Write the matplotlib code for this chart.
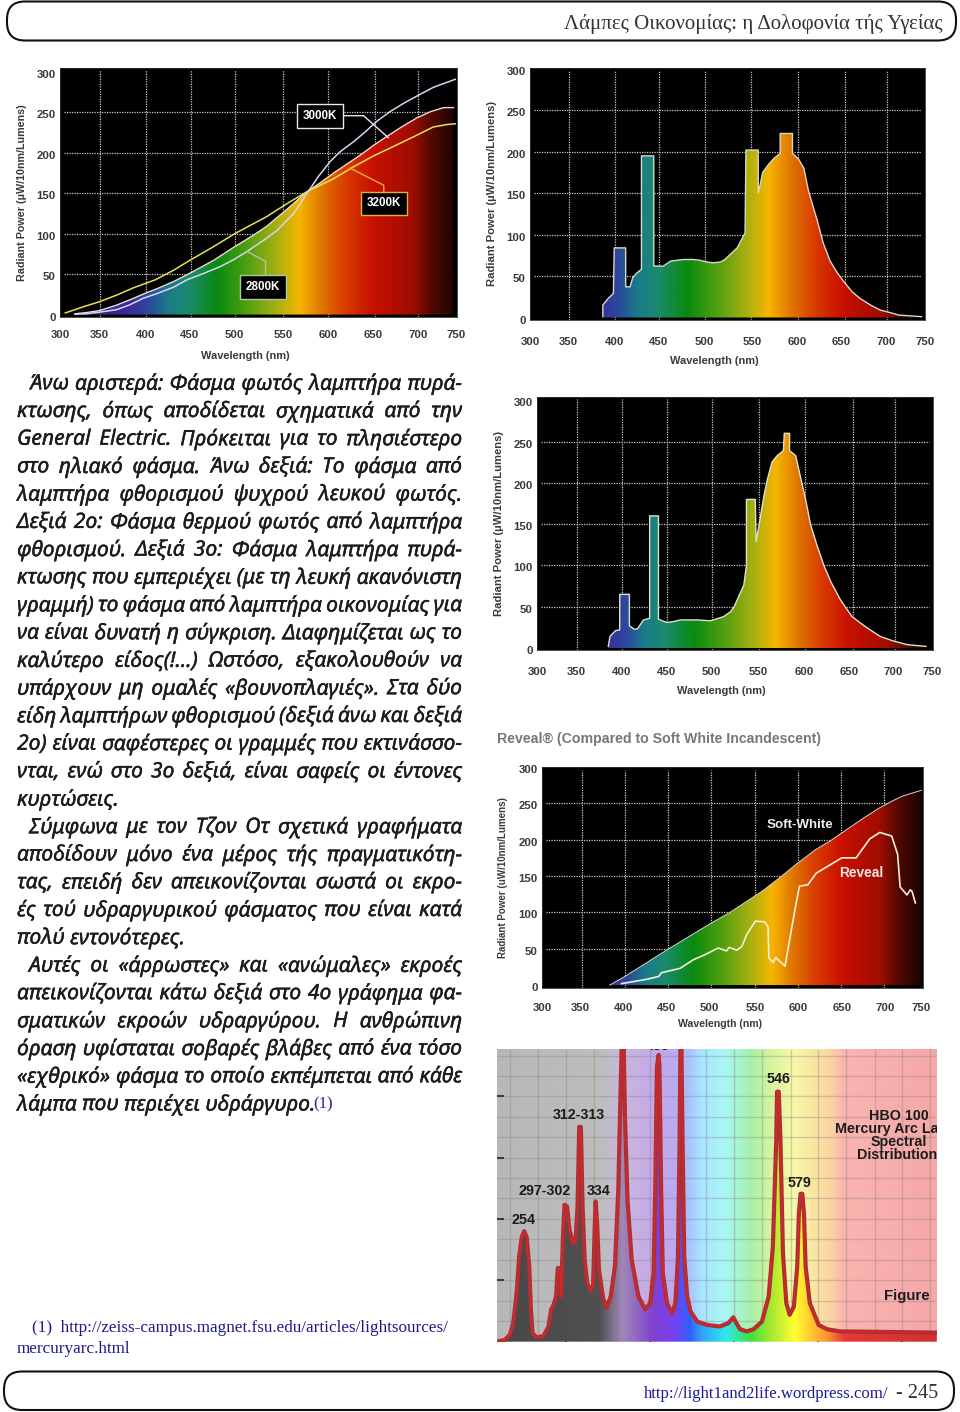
import numpy as np
import matplotlib
matplotlib.use('Agg')
import matplotlib.pyplot as plt
from matplotlib.colors import LinearSegmentedColormap
from matplotlib.patches import FancyBboxPatch
from matplotlib.transforms import ScaledTranslation
import matplotlib.patheffects as pe

W, H = 960, 1412
CHART_FONT = 'Liberation Sans'
SERIF = 'Liberation Serif'
BODY_FONT = 'Noto Sans'

# spectrum colours by wavelength
spec_wl = [300, 376, 402, 421, 444, 478, 512, 546, 572, 595, 625, 655, 700, 723, 750]
spec_col = ['#2a1a80', '#3a2a9a', '#2a4c9c', '#1a7a8a', '#1a8a70', '#0a8a10', '#4f9f10', '#a8b010',
            '#f7b500', '#e07a00', '#d83a00', '#c81000', '#a00c00', '#500800', '#1a0400']

# chart 1: incandescent lamps
c1_tick_x = [300, 345, 397, 447, 498, 553, 604, 655, 706, 749]
c1_grid_x = [345, 397, 448, 498, 553, 604, 657, 706]
c1_fill_x = [317, 330, 345, 364, 383, 398, 410, 429, 447, 474, 498, 519, 534, 557, 580, 595, 610, 625, 640, 655, 670, 687, 704, 720, 735, 746]
c1_fill_y = [1, 2.5, 5, 11.6, 20, 27, 32, 41, 51, 67, 84, 98, 109, 130, 152, 163, 175, 186, 197, 209, 220, 232, 243, 251, 256, 256]
c1_yellow_x = [306, 326, 345, 364, 383, 408, 429, 447, 474, 498, 534, 557, 580, 610, 633, 655, 678, 701, 723, 738, 748]
c1_yellow_y = [2, 9.5, 16, 24, 33, 43, 55, 67, 84, 100, 121, 137, 152, 168, 183, 196, 208, 220, 232, 235, 236]
c1_lav_x = [317, 330, 345, 364, 379, 394, 410, 429, 444, 463, 481, 497, 512, 531, 546, 565, 580, 593, 606, 617, 633, 646, 659, 674, 689, 704, 723, 748]
c1_lav_y = [0.5, 1, 3, 6, 12, 20, 26, 34, 43, 51, 59, 68, 78, 92, 104, 125, 150, 171, 189, 201, 214, 226, 239, 251, 261, 270, 281, 291]

# chart 2: cool white fluorescent
c2_tick_x = [300, 344, 396, 446, 498, 553, 604, 655, 706, 750]
c2_grid_x = [344, 397, 447, 499, 552, 605, 659, 707]
c2_x = [383, 383, 389, 395, 396, 409, 409, 414, 417, 422, 427, 427, 441, 441, 452, 460, 467, 475, 486, 494, 501, 509, 517, 522, 530, 536, 541,
        545, 546, 560, 560, 563, 565, 572, 577, 585, 585, 599, 599, 606, 612, 617, 623, 627, 634, 642, 650, 657, 667, 676, 688, 699, 710, 720, 746]
c2_y = [1, 15, 23, 29, 84, 84, 37, 37, 48, 54, 58, 195, 195, 62, 62, 68, 69, 70, 70, 69, 67, 66, 67, 70, 78, 84, 94,
        102, 202, 202, 150, 164, 175, 185, 191, 198, 222, 222, 198, 191, 180, 154, 132, 118, 90, 68, 54, 44, 31, 23, 15, 9, 6, 3, 1]

# chart 3: warm white fluorescent
c3_tick_x = [300, 345, 396, 447, 498, 551, 604, 655, 705, 749]
c3_grid_x = [345, 397, 448, 499, 552, 605, 659, 707]
c3_x = [381, 383, 389, 394, 394, 405, 405, 410, 414, 421, 428, 428, 438, 438, 442, 448, 455, 463, 482, 497, 512, 520, 524, 529,
        535, 538, 538, 548, 549, 553, 558, 562, 567, 573, 580, 581, 587, 587, 594, 599, 605, 611, 618, 626, 634, 645, 658, 673, 690, 705, 721, 742]
c3_y = [2, 14, 21, 22, 65, 65, 27, 23, 23, 34, 36, 160, 160, 35, 33, 31, 32, 34, 34, 33, 38, 44, 50, 62,
        76, 100, 180, 180, 129, 153, 185, 205, 225, 233, 239, 260, 260, 239, 233, 209, 181, 149, 125, 100, 80, 58, 38, 26, 14, 8.5, 4, 2]

# chart 4: reveal vs soft white
c4_tick_x = [300, 345, 396, 447, 498, 552, 603, 654, 705, 748]
c4_grid_x = [347, 398, 449, 500, 551, 602, 653, 704]
c4_soft_x = [380, 398, 447, 498, 522, 561, 581, 601, 624, 640, 660, 680, 699, 715, 726, 748]
c4_soft_y = [0, 12, 48, 84, 100, 130, 148, 167, 187, 198, 214, 230, 244, 254, 260, 268]
c4_rev_x = [394, 424, 438, 441, 463, 479, 491, 508, 518, 521, 530, 536, 542, 552, 563, 567, 568, 573, 576, 587,
            593, 599, 604, 614, 624, 654, 671, 687, 699, 713, 720, 723, 731, 735, 737, 741]
c4_rev_y = [2, 8, 12, 17, 23, 35, 41, 51, 47, 52, 48, 53, 70, 88, 87, 80, 37, 31, 38, 26,
            66, 105, 136, 138, 154, 175, 175, 201, 210, 205, 180, 135, 124, 131, 129, 113]

# labels shared by the dark charts
x_tick_labels = ['300', '350', '400', '450', '500', '550', '600', '650', '700', '750']
y_ticks = [0, 50, 100, 150, 200, 250, 300]
y_grid = [50, 100, 150, 200, 250]

# chart 5: mercury arc, the clipped lines run off the top
hg_x = [218, 227, 233, 237, 241, 244, 247, 250, 253, 256, 258, 260, 265, 273, 279, 282, 285, 288, 290, 292, 294, 296, 298, 301, 304,
        308, 311, 313.5, 315.5, 317.5, 319.5, 322, 325, 329, 332, 334, 335, 337, 339, 344, 348, 353, 358, 362, 365, 367.5, 370, 373,
        378, 386, 394, 400, 404, 406, 408, 410, 411, 413, 415, 420, 426, 430, 433, 435, 436.5, 438.5, 440.5, 444, 448, 456, 467.5,
        483, 493, 499, 502.5, 507, 515, 523, 533, 541, 546, 550, 551, 553, 555, 558, 562, 566, 571, 575, 577, 579, 581, 583, 585,
        590, 600.5, 610.5, 626, 741]
hg_y = [0, 0.5, 2.2, 6, 15.8, 27.7, 34, 36, 34, 24.5, 10.3, 2.7, 1.3, 1.8, 4.9, 10.3, 12, 14.7, 24, 24, 14.7, 33, 44.6, 44, 36.4,
        32, 32.6, 44, 70, 70, 44, 26.6, 19, 16.6, 18, 37.5, 45.7, 37.5, 23.4, 14, 11, 14.7, 24.5, 49.5, 85, 110, 73, 46,
        26.6, 14.7, 10.5, 12.5, 22.3, 49.5, 89.7, 93.5, 89.7, 49.5, 22.3, 12.5, 9.2, 12.5, 27.7, 65.8, 110, 65.8, 27.7, 14.7, 9.8, 6.5, 5.4,
        4.9, 6, 7.9, 6, 4, 3.3, 4, 6.5, 14.7, 31, 65.8, 81.5, 81.5, 65.8, 28.8, 12.5, 8.7, 11.4, 24.5, 41.9, 48.2, 48.2, 41.9, 24.5,
        12.5, 5.4, 4, 3.3, 2.9]
hg_wl = [218, 340, 366, 404, 426, 448, 460, 490, 520, 545, 572, 612, 632, 741]
hg_back = ['#b8b8b8', '#bdbdbd', '#c8b8dc', '#c6a8e8', '#bca8f0', '#a8c4ff', '#a8e4ff', '#a8f8f4', '#a8f0a8',
           '#d8f4a0', '#f8f8a8', '#fbd8a0', '#fbb4b0', '#f4a8a8']
hg_under = ['#484848', '#505050', '#a088b8', '#8040d0', '#7a40f0', '#3060ff', '#30a0f8', '#30e8f0', '#40e040',
            '#a8e830', '#ffff30', '#ff9030', '#e83838', '#d03030']
hg_ticks_x = [300, 400, 500, 600, 700]
hg_ticks_y = [20, 40, 60, 80]
hg_grid_x = [233, 267, 300, 333, 367, 400, 433, 467, 500, 533, 567, 600, 633, 667, 700, 733]
hg_grid_y = [6.7, 13.3, 20, 26.7, 33.3, 40, 46.7, 53.3, 60, 66.7, 73.3, 80, 86.7, 93.3]

# page text
header = 'Λάμπες Οικονομίας: η Δολοφονία τής Υγείας'
body_lines = [
    'Άνω αριστερά: Φάσμα φωτός λαμπτήρα πυρά-',
    'κτωσης, όπως αποδίδεται σχηματικά από την',
    'General Electric. Πρόκειται για το πλησιέστερο',
    'στο ηλιακό φάσμα. Άνω δεξιά: Το φάσμα από',
    'λαμπτήρα φθορισμού ψυχρού λευκού φωτός.',
    'Δεξιά 2ο: Φάσμα θερμού φωτός από λαμπτήρα',
    'φθορισμού. Δεξιά 3ο: Φάσμα λαμπτήρα πυρά-',
    'κτωσης που εμπεριέχει (με τη λευκή ακανόνιστη',
    'γραμμή) το φάσμα από λαμπτήρα οικονομίας για',
    'να είναι δυνατή η σύγκριση. Διαφημίζεται ως το',
    'καλύτερο είδος(!...) Ωστόσο, εξακολουθούν να',
    'υπάρχουν μη ομαλές «βουνοπλαγιές». Στα δύο',
    'είδη λαμπτήρων φθορισμού (δεξιά άνω και δεξιά',
    '2ο) είναι σαφέστερες οι γραμμές που εκτινάσσο-',
    'νται, ενώ στο 3ο δεξιά, είναι σαφείς οι έντονες',
    'κυρτώσεις.',
    'Σύμφωνα με τον Τζον Οτ σχετικά γραφήματα',
    'αποδίδουν μόνο ένα μέρος τής πραγματικότη-',
    'τας, επειδή δεν απεικονίζονται σωστά οι εκρο-',
    'ές τού υδραργυρικού φάσματος που είναι κατά',
    'πολύ εντονότερες.',
    'Αυτές οι «άρρωστες» και «ανώμαλες» εκροές',
    'απεικονίζονται κάτω δεξιά στο 4ο γράφημα φα-',
    'σματικών εκροών υδραργύρου. Η ανθρώπινη',
    'όραση υφίσταται σοβαρές βλάβες από ένα τόσο',
    '«εχθρικό» φάσμα το οποίο εκπέμπεται από κάθε',
    'λάμπα που περιέχει υδράργυρο.',
]
indented = [0, 16, 21]
ragged = [15, 20, 26]

spec_cmap = LinearSegmentedColormap.from_list(
    'spec', [((w - 300) / 450, c) for w, c in zip(spec_wl, spec_col)])


def px_axes(fig, left, top, right, bottom):
    return fig.add_axes([left / W, 1 - bottom / H, (right - left) / W, (bottom - top) / H])


def spectrum_fill(ax, x, y, ylim):
    poly = ax.fill(list(x) + [x[-1], x[0]], list(y) + [0, 0], color='none', zorder=1)[0]
    grad = np.linspace(0, 1, 451).reshape(1, -1)
    im = ax.imshow(grad, extent=[300, 750, ylim[0], ylim[1]], cmap=spec_cmap, aspect='auto',
                   interpolation='bilinear', zorder=2)
    im.set_clip_path(poly)


def dark_chart(fig, rect, ylim, tick_x, grid_x, ylabel, ylabel_x, ylabel_size, xlabel_pos, xlabel_size, xpad):
    ax = px_axes(fig, *rect)
    ax.set_facecolor('black')
    ax.set_xlim(300, 750)
    ax.set_ylim(*ylim)
    ax.set_xticks(tick_x)
    ax.set_xticklabels(x_tick_labels)
    ax.set_yticks(y_ticks)
    ax.tick_params(length=0, labelsize=8.2, labelcolor='#3a3a3a')
    ax.tick_params(axis='x', pad=xpad)
    ax.tick_params(axis='y', pad=3)
    shift = ScaledTranslation(0, -2 / 100, fig.dpi_scale_trans)
    for lab in ax.get_yticklabels():
        lab.set_transform(lab.get_transform() + shift)
    for lab in ax.get_xticklabels() + ax.get_yticklabels():
        lab.set_fontfamily(CHART_FONT)
        lab.set_fontweight('bold')
    for s in ax.spines.values():
        s.set_color('#303030')
        s.set_linewidth(0.6)
    ax.vlines(grid_x, ylim[0], ylim[1] - 2, color='#c8c8c8', lw=0.9, ls=(0, (1, 1)), zorder=0.5)
    ax.hlines(y_grid, 305, 746, color='#c8c8c8', lw=0.9, ls=(0, (1, 1)), zorder=0.5)
    ax.set_ylabel(ylabel, fontsize=ylabel_size, fontfamily=CHART_FONT, fontweight='bold', color='#3a3a3a')
    ax.yaxis.set_label_coords((ylabel_x + 6 - rect[0]) / (rect[2] - rect[0]), 0.5)
    ax.set_xlabel('Wavelength (nm)', fontsize=xlabel_size, fontfamily=CHART_FONT, fontweight='bold',
                  color='#3a3a3a')
    ax.xaxis.set_label_coords((xlabel_pos[0] - rect[0]) / (rect[2] - rect[0]),
                              (rect[3] - xlabel_pos[1] + 5) / (rect[3] - rect[1]))
    return ax


def lamp_tag(ax, xy, text, edge, leader_x, leader_y):
    ax.plot(leader_x, leader_y, color=edge, lw=1.0, zorder=5)
    ax.text(xy[0], xy[1], text, color='white', fontsize=8.4, fontfamily=CHART_FONT, fontweight='bold',
            ha='center', va='center', zorder=6,
            bbox=dict(boxstyle='square,pad=0.5', fc='black', ec=edge, lw=1.0))


def draw_justified(page, fig):
    rend = fig.canvas.get_renderer()
    right = 462
    for i, line in enumerate(body_lines):
        y = 381.3 + i * 27.72
        left = 29 if i in indented else 17
        x = left
        words = line.split(' ')
        items = [page.text(0, y, wd, fontsize=15.2, fontfamily=BODY_FONT, fontstyle='italic',
                           color='#1c1c1c', va='center_baseline', ha='left',
                           path_effects=[pe.withStroke(linewidth=0.3, foreground='#1c1c1c')]) for wd in words]
        widths = [t.get_window_extent(rend).width for t in items]
        if i in ragged or len(words) == 1:
            gap = 5.5
        else:
            gap = (right - left - sum(widths)) / (len(words) - 1)
        for t, wd in zip(items, widths):
            t.set_x(x)
            x += wd + gap
    page.text(313, 1104, '(1)', fontsize=12, fontfamily=SERIF, color='#2222aa', va='center')


fig = plt.figure(figsize=(W / 100, H / 100), dpi=100, facecolor='white')
page = fig.add_axes([0, 0, 1, 1])
page.set_xlim(0, W)
page.set_ylim(H, 0)
page.axis('off')

page.add_patch(FancyBboxPatch((7, 1.5), 949, 39, boxstyle='round,pad=0,rounding_size=18',
                              fc='white', ec='#111111', lw=1.5))
page.add_patch(FancyBboxPatch((4, 1371.5), 950, 38.5, boxstyle='round,pad=0,rounding_size=18',
                              fc='white', ec='#111111', lw=1.5))
page.text(943, 23.5, header, fontsize=15.0, fontfamily=SERIF, color='#333333', ha='right', va='center')
page.text(888, 1393.5, 'http://light1and2life.wordpress.com/', fontsize=12.05, fontfamily=SERIF,
          color='#1a1a9a', ha='right', va='center')
page.text(938, 1393, '- 245', fontsize=14.6, fontfamily=SERIF, color='#333333', ha='right', va='center')
page.text(32, 1328, '(1)  http://zeiss-campus.magnet.fsu.edu/articles/lightsources/', fontsize=12.35,
          fontfamily=SERIF, color='#1a1a8a', va='center')
page.text(17, 1349, 'mercuryarc.html', fontsize=12.35, fontfamily=SERIF, color='#1a1a8a', va='center')
page.text(497, 739, 'Reveal® (Compared to Soft White Incandescent)', fontsize=10.15, fontfamily=CHART_FONT,
          fontweight='bold', color='#777777', va='center')
fig.canvas.draw()
draw_justified(page, fig)

# chart 1
ax1 = dark_chart(fig, (60, 68, 457, 317), (-3, 305), c1_tick_x, c1_grid_x,
                 'Radiant Power (µW/10nm/Lumens)', 21, 7.75, (245, 356), 7.9, 9.7)
spectrum_fill(ax1, c1_fill_x, c1_fill_y, (-3, 305))
ax1.plot(c1_fill_x, c1_fill_y, color='#f0d8d0', lw=1.0, zorder=3)
ax1.plot(c1_yellow_x, c1_yellow_y, color='#e8e050', lw=1.1, zorder=4)
ax1.plot(c1_lav_x, c1_lav_y, color='#d8d4f0', lw=1.1, zorder=4)
lamp_tag(ax1, (595, 246), '3000K', '#e8e8e8', [622, 644, 672], [246, 246, 219])
lamp_tag(ax1, (667, 137.5), '3200K', '#e8b030', [667, 667, 629], [150, 160, 181])
lamp_tag(ax1, (530, 34), '2800K', '#a8c8a8', [533, 533, 512], [47, 66, 78])

# chart 2
ax2 = dark_chart(fig, (530, 68, 925, 320), (-3, 301), c2_tick_x, c2_grid_x,
                 'Radiant Power (µW/10nm/Lumens)', 491, 8.1, (714, 361), 7.9, 12)
spectrum_fill(ax2, c2_x, c2_y, (-3, 301))
ax2.plot(c2_x, c2_y, color='#d8d8c8', lw=1.0, zorder=3)

# chart 3
ax3 = dark_chart(fig, (537, 397, 933, 650), (-2.4, 304), c3_tick_x, c3_grid_x,
                 'Radiant Power (µW/10nm/Lumens)', 498, 8.1, (721, 691), 7.9, 12)
spectrum_fill(ax3, c3_x, c3_y, (-2.4, 304))
ax3.plot(c3_x, c3_y, color='#e0e0d0', lw=1.0, zorder=3)

# chart 4
ax4 = dark_chart(fig, (542, 767, 923, 988), (-4, 298), c4_tick_x, c4_grid_x,
                 'Radiant Power (uW/10nm/Lumens)', 502, 7.0, (720, 1024), 7.6, 10.5)
spectrum_fill(ax4, c4_soft_x, c4_soft_y, (-4, 298))
ax4.plot(c4_soft_x, c4_soft_y, color='#d8d0c8', lw=0.7, zorder=3)
ax4.plot(c4_rev_x, c4_rev_y, color='#f4f0d8', lw=1.2, zorder=4)
ax4.text(605, 220, 'Soft-White', color='#eeeeee', fontsize=9.6, fontfamily=CHART_FONT, fontweight='bold',
         ha='center', va='center', zorder=5)
ax4.text(677, 154, 'Reveal', color='#f4e8e0', fontsize=9.9, fontfamily=CHART_FONT, fontweight='bold',
         ha='center', va='center', zorder=5)

# chart 5
ax5 = px_axes(fig, 497.3, 1048.5, 936.7, 1341.5)
ax5.set_xlim(218, 741)
ax5.set_ylim(0, 95.6)
back_cmap = LinearSegmentedColormap.from_list('back', [((w - 218) / 523, c) for w, c in zip(hg_wl, hg_back)])
under_cmap = LinearSegmentedColormap.from_list('under', [((w - 218) / 523, c) for w, c in zip(hg_wl, hg_under)])
grad5 = np.linspace(0, 1, 524).reshape(1, -1)
ax5.imshow(grad5, extent=[218, 741, 0, 95.6], cmap=back_cmap, aspect='auto', zorder=0)
ax5.vlines(hg_grid_x, 0, 95.6, color='#808080', alpha=0.35, lw=1.0, zorder=1)
ax5.hlines(hg_grid_y, 218, 741, color='#808080', alpha=0.35, lw=1.0, zorder=1)
poly5 = ax5.fill(hg_x + [741, 218], hg_y + [0, 0], color='none', zorder=1)[0]
im5 = ax5.imshow(grad5, extent=[218, 741, 0, 95.6], cmap=under_cmap, aspect='auto', zorder=2)
im5.set_clip_path(poly5)
ax5.set_xlim(218, 741)
ax5.set_ylim(0, 95.6)
ax5.plot(hg_x, hg_y, color='#a83034', lw=3.0, solid_joinstyle='round', zorder=3)
ax5.plot(hg_x, hg_y, color='#d42828', lw=1.0, solid_joinstyle='round', zorder=4)
ax5.set_xticks(hg_ticks_x)
ax5.set_yticks(hg_ticks_y)
ax5.set_xticklabels([])
ax5.set_yticklabels([])
ax5.tick_params(direction='in', length=5, width=1.2, color='#222222')
for s in ax5.spines.values():
    s.set_visible(False)
hg_labels = [('254', 249, 39.8), ('297-302', 274, 49), ('312-313', 315, 73.8), ('334', 338, 49),
             ('435', 409, 96.3), ('546', 553, 85.7), ('579', 578, 51.6), ('HBO 100', 696, 73.7),
             ('Spectral', 696, 65), ('Distribution', 694, 60.7)]
for txt, lx, ly in hg_labels:
    ax5.text(lx, ly, txt, fontsize=10.3, fontfamily=CHART_FONT, fontweight='bold', color='#1c1c1c',
             ha='center', va='center', zorder=5, clip_on=True)
ax5.text(620, 69.4, 'Mercury Arc Lamp', fontsize=10.3, fontfamily=CHART_FONT, fontweight='bold',
         color='#1c1c1c', ha='left', va='center', zorder=5, clip_on=True)
ax5.text(706, 15, 'Figure', fontsize=10.8, fontfamily=CHART_FONT, fontweight='bold', color='#1c1c1c',
         ha='center', va='center', zorder=5)

plt.savefig('out.png', dpi=100)
plt.close()
